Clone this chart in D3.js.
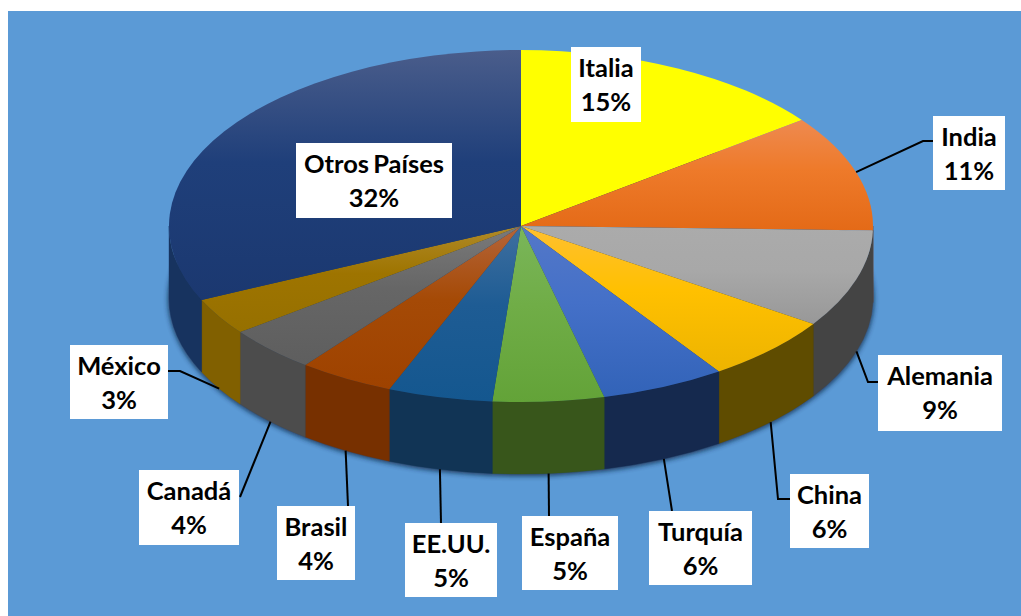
<!DOCTYPE html>
<html>
<head>
<meta charset="utf-8">
<script src="https://cdn.jsdelivr.net/npm/d3@7"></script>
<style>
  html, body { margin: 0; padding: 0; background: #fff; overflow: hidden; }
  text { font-family: Lato, "Open Sans", sans-serif; font-weight: 700; font-size: 25.5px; word-spacing: -2px; fill: #000; }
</style>
</head>
<body>
<div id="chart"></div>
<script>
// data
const paises = ["Italia", "India", "Alemania", "China", "Turquía", "España", "EE.UU.", "Brasil", "Canadá", "México", "Otros Países"];
const valores = [14.7, 10.7, 9.0, 6.1, 5.7, 5.1, 4.8, 4.4, 4.2, 3.4, 31.9];

// colours of the top face (gradient) and of the side wall
const colorTop = ["#FFFF00", "#EE8A50", "#ABABAB", "#FFC030", "#5478C8", "#7AB65A", "#3F6F9F", "#B5653A", "#7A7A7A", "#B08A28", "#4A5D8B"];
const colorMid = ["#FFFF00", "#EE7A2A", "#A8A8A8", "#FFC000", "#4470C8", "#70AD47", "#1E5C94", "#A54A06", "#666666", "#9E7400", "#1F3F7A"];
const colorBot = ["#FFFF00", "#E46A17", "#989898", "#EDB400", "#3263B8", "#63A338", "#14578F", "#9E4200", "#5E5E5E", "#967000", "#1B3870"];
const colorWall = ["#7F7F00", "#7A3A10", "#444444", "#5F4C00", "#15294E", "#38561B", "#113455", "#773000", "#4C4C4C", "#816000", "#17335F"];

// label boxes [x0, y0, x1, y1]
const cajas = [
  [571, 47, 641, 122], [933, 116, 1005, 190], [878, 355, 1002, 431], [790, 474, 869, 548],
  [649, 511, 752, 585], [522, 516, 618, 590], [405, 523, 497, 597], [277, 506, 355, 580],
  [139, 470, 239, 545], [70, 345, 168, 419], [296, 143, 452, 218]
];
// leader lines: elbow (or null) and end point at the box
const codos = [null, [923, 141], [868, 382], [778, 499], null, null, null, null, null, [180, 371], null];
const finales = [null, [933, 141], [878, 382], [790, 499], [672, 511], [549, 516], [441, 523], [348, 506], [240, 497], [168, 371], null];

const W = 1021, H = 616;
const cx = 521, cy = 226, rx = 352, ry = 176, depth = 72;

const svg = d3.select("#chart").append("svg")
  .attr("width", W)
  .attr("height", H)
  .style("display", "block");

const defs = svg.append("defs");
defs.append("filter").attr("id", "blur")
  .attr("x", "-5%").attr("y", "-5%").attr("width", "110%").attr("height", "110%")
  .append("feGaussianBlur").attr("stdDeviation", 2.6);

// blue panel
svg.append("rect")
  .attr("x", 8).attr("y", 11)
  .attr("width", W - 8).attr("height", H - 11)
  .attr("fill", "#5B9AD6");

const pie = d3.pie().sort(null).value(d => d);
const slices = pie(valores);

// point on the rim of the top ellipse
const rimX = a => cx + rx * Math.sin(a);
const rimY = a => cy - ry * Math.cos(a);

// soft shadow around the foot of the cylinder
svg.append("ellipse")
  .attr("cx", cx).attr("cy", cy + depth + 1)
  .attr("rx", rx + 1).attr("ry", ry + 1)
  .attr("fill", "#10243f")
  .attr("opacity", 0.8)
  .attr("filter", "url(#blur)");

// side walls, only the front half of the pie shows
const wallPath = function(a0, a1) {
  return `M${rimX(a0)},${rimY(a0)}`
    + `A${rx},${ry} 0 0 1 ${rimX(a1)},${rimY(a1)}`
    + `L${rimX(a1)},${rimY(a1) + depth}`
    + `A${rx},${ry} 0 0 0 ${rimX(a0)},${rimY(a0) + depth}Z`;
};

svg.append("g").selectAll("path")
  .data(slices.filter(d => d.endAngle > Math.PI / 2 && d.startAngle < 3 * Math.PI / 2))
  .join("path")
  .attr("d", d => wallPath(Math.max(d.startAngle, Math.PI / 2), Math.min(d.endAngle, 3 * Math.PI / 2)))
  .attr("fill", d => colorWall[d.index])
  .attr("stroke", d => colorWall[d.index])
  .attr("stroke-width", 0.4);

// top face
slices.forEach(function(d) {
  const g = defs.append("linearGradient")
    .attr("id", "grad" + d.index)
    .attr("x1", 0).attr("y1", 0).attr("x2", 0).attr("y2", 1);
  g.append("stop").attr("offset", "0%").attr("stop-color", colorTop[d.index]);
  g.append("stop").attr("offset", "45%").attr("stop-color", colorMid[d.index]);
  g.append("stop").attr("offset", "100%").attr("stop-color", colorBot[d.index]);
});

const arc = d3.arc().innerRadius(0).outerRadius(rx);

svg.append("g")
  .attr("transform", `translate(${cx},${cy}) scale(1,${ry / rx})`)
  .selectAll("path")
  .data(slices)
  .join("path")
  .attr("d", arc)
  .attr("fill", d => `url(#grad${d.index})`);

// leader lines start on the middle of each slice
const line = d3.line();
svg.append("g").selectAll("path")
  .data(slices.filter(d => finales[d.index]))
  .join("path")
  .attr("d", function(d) {
    const a = (d.startAngle + d.endAngle) / 2;
    const front = a > Math.PI / 2 && a < 3 * Math.PI / 2;
    const pts = [[rimX(a), rimY(a) + (front ? depth : 0)]];
    if (codos[d.index]) pts.push(codos[d.index]);
    pts.push(finales[d.index]);
    return line(pts);
  })
  .attr("fill", "none")
  .attr("stroke", "#000")
  .attr("stroke-width", 2);

// labels
const labels = svg.append("g").selectAll("g")
  .data(slices)
  .join("g");

labels.append("rect")
  .attr("x", d => cajas[d.index][0])
  .attr("y", d => cajas[d.index][1])
  .attr("width", d => cajas[d.index][2] - cajas[d.index][0])
  .attr("height", d => cajas[d.index][3] - cajas[d.index][1])
  .attr("fill", "#fff");

labels.append("text")
  .attr("text-anchor", "middle")
  .attr("x", d => (cajas[d.index][0] + cajas[d.index][2]) / 2)
  .attr("y", d => cajas[d.index][1] + 30)
  .text(d => paises[d.index]);

labels.append("text")
  .attr("text-anchor", "middle")
  .attr("x", d => (cajas[d.index][0] + cajas[d.index][2]) / 2)
  .attr("y", d => cajas[d.index][1] + 64)
  .text(d => Math.round(d.value) + "%");
</script>
</body>
</html>
